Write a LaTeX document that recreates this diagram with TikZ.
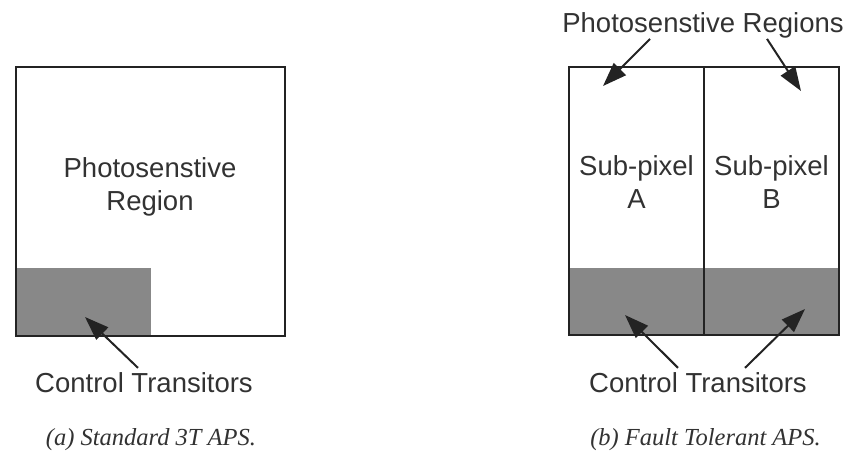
\documentclass[tikz,border=0pt]{standalone}
\usepackage{fontspec}
\setmainfont{Liberation Serif}
\setsansfont{Liberation Sans}
\usetikzlibrary{arrows.meta}
\definecolor{inkgray}{RGB}{35,35,35}
\definecolor{textgray}{RGB}{50,50,50}
\definecolor{transgray}{RGB}{136,136,136}

\begin{document}
\begin{tikzpicture}[x=1pt,y=-1pt,>={Triangle[length=24pt,width=17pt]},
  lbl/.style={inner sep=0pt,align=center,text=textgray,font=\sffamily\fontsize{27.5}{33.5}\selectfont},
  subcap/.style={inner sep=0pt,text=textgray,font=\itshape\fontsize{24.5}{28}\selectfont},
  pixel/.style={draw=inkgray,line width=2.4pt},
  ptr/.style={->,inkgray,line width=2pt}]
  \useasboundingbox (0,0) rectangle (851,451);
  % (a) standard pixel
  \fill[transgray] (16,268) rectangle (151,336);
  \draw[pixel] (16,67) rectangle (285,336);
  \node[lbl](photoA) at (150,187) {Photosenstive\\Region};
  \node[lbl,anchor=base](ctrlA) at (144,392) {Control Transitors};
  \coordinate (tipA) at (85,317);
  \draw[ptr]([xshift=-6pt,yshift=4pt]ctrlA.north)--(tipA);
  \node[subcap,anchor=base](capA) at (151,445) {(a) Standard 3T APS.};
  % (b) fault tolerant pixel
  \fill[transgray] (569,268) rectangle (839,335);
  \draw[pixel] (569,67) rectangle (839,335);
  \draw[pixel] (704,67)--(704,335);
  \node[lbl](subA) at (636.5,182) {Sub-pixel\\A};
  \node[lbl](subB) at (771.5,182) {Sub-pixel\\B};
  \node[lbl,anchor=base](photoB) at (703,32) {Photosenstive Regions};
  \node[lbl,anchor=base](ctrlB) at (698,392) {Control Transitors};
  \coordinate (tipPA) at (603,86);
  \coordinate (tipPB) at (801,91);
  \coordinate (tipCA) at (625,315);
  \coordinate (tipCB) at (805,309);
  \draw[ptr]([xshift=-53pt,yshift=-1pt]photoB.south)--(tipPA);
  \draw[ptr]([xshift=64pt,yshift=-1pt]photoB.south)--(tipPB);
  \draw[ptr]([xshift=-20pt,yshift=4pt]ctrlB.north)--(tipCA);
  \draw[ptr]([xshift=47pt,yshift=4pt]ctrlB.north)--(tipCB);
  \node[subcap,anchor=base](capB) at (705.5,445) {(b) Fault Tolerant APS.};
\end{tikzpicture}
\end{document}
